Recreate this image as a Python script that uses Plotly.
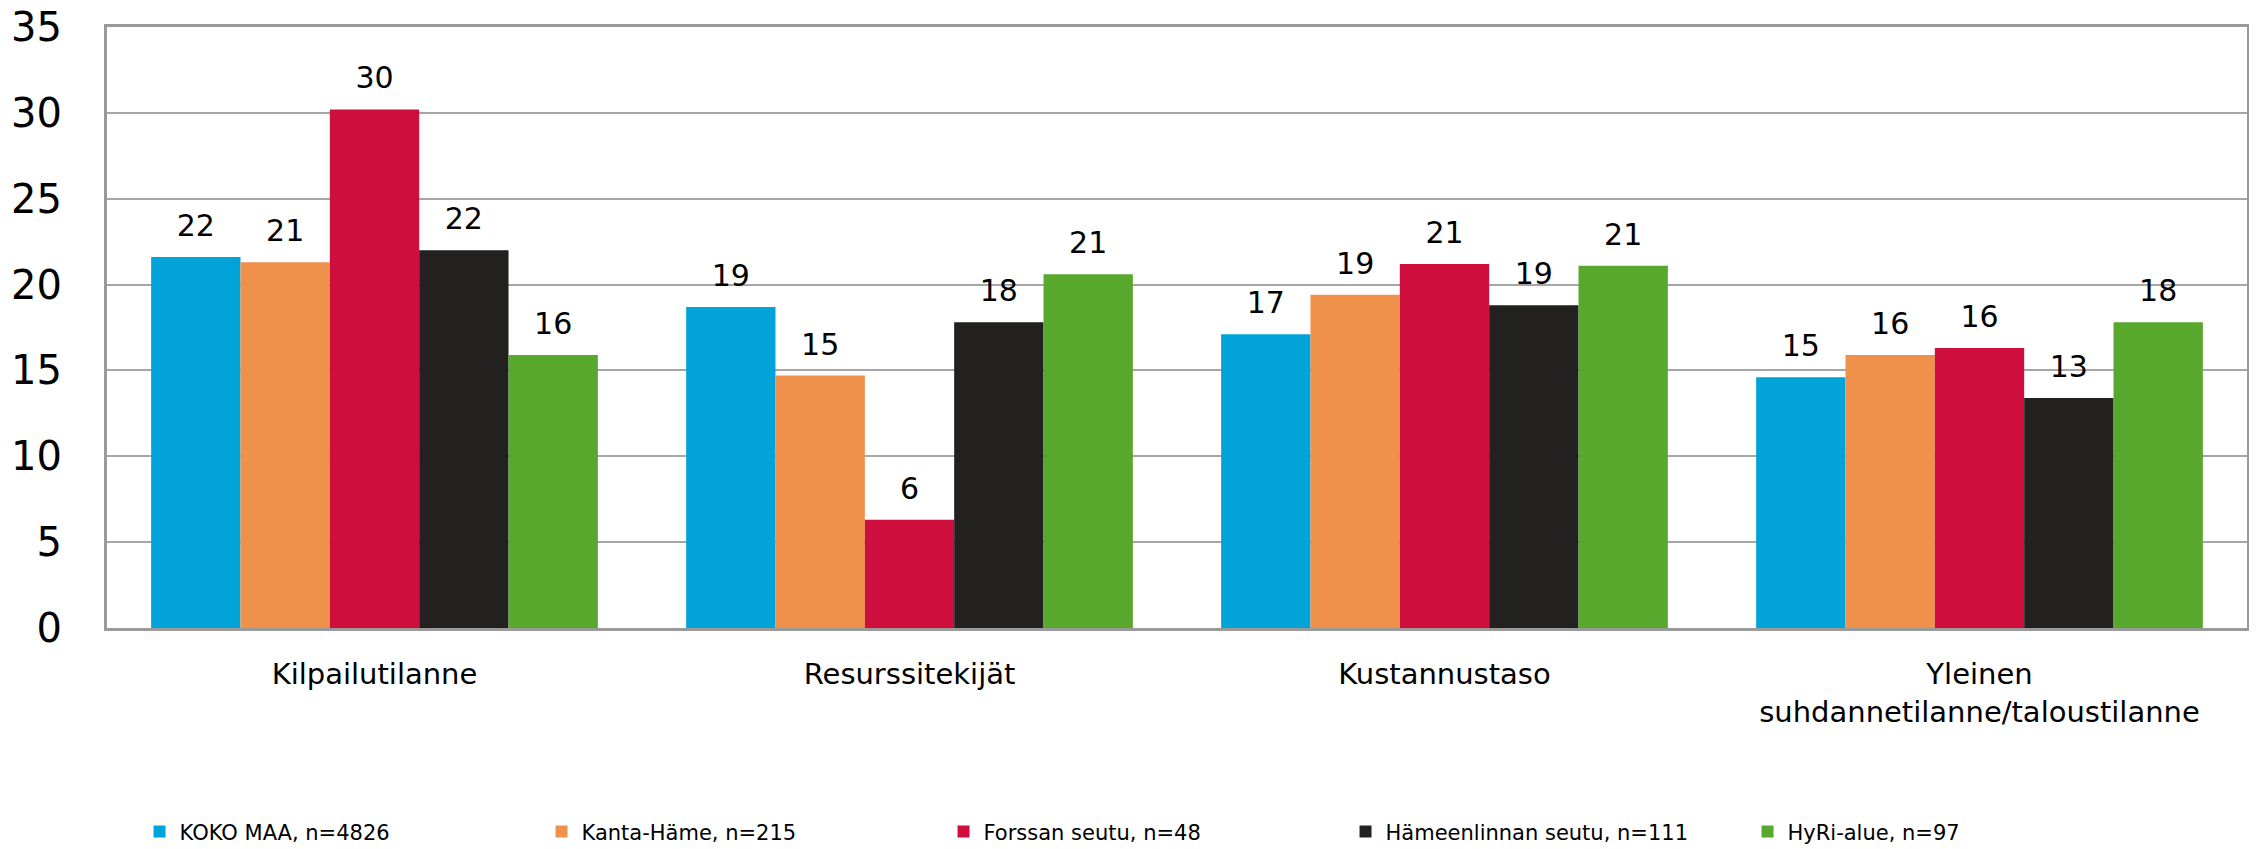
import plotly.graph_objects as go

categories = ["Kilpailutilanne", "Resurssitekijät", "Kustannustaso",
              "Yleinen<br>suhdannetilanne/taloustilanne"]
series_names = ["KOKO MAA, n=4826", "Kanta-Häme, n=215", "Forssan seutu, n=48",
                "Hämeenlinnan seutu, n=111", "HyRi-alue, n=97"]
koko_maa = [21.6, 18.7, 17.1, 14.6]
kanta_hame = [21.3, 14.7, 19.4, 15.9]
forssa = [30.2, 6.3, 21.2, 16.3]
hameenlinna = [22.0, 17.8, 18.8, 13.4]
hyri = [15.9, 20.6, 21.1, 17.8]
colors = ["#02A3D8", "#EF914B", "#CE0F3E", "#222120", "#58A82D"]
y_ticks = [0, 5, 10, 15, 20, 25, 30, 35]

values = [koko_maa, kanta_hame, forssa, hameenlinna, hyri]
FONT = "DejaVu Sans"
GAP = 0.165

fig = go.Figure()
for i, (name, vals, col) in enumerate(zip(series_names, values, colors)):
    fig.add_trace(go.Bar(
        x=categories, y=vals, name=name, marker=dict(color=col, line=dict(width=0)),
        offsetgroup=str(i), hoverinfo="skip"))
for i, (name, vals) in enumerate(zip(series_names, values)):
    fig.add_trace(go.Scatter(
        x=categories, y=vals, mode="markers+text", showlegend=False,
        offsetgroup=str(i), text=[f"{v:.0f}" for v in vals],
        textposition="top center",
        textfont=dict(family=FONT, size=30, color="#000000"),
        marker=dict(size=20, opacity=0), hoverinfo="skip", cliponaxis=False))

fig.update_layout(
    width=2249, height=849,
    paper_bgcolor="white", plot_bgcolor="white",
    barmode="group", bargap=GAP, bargroupgap=0,
    scattermode="group", scattergap=GAP,
    margin=dict(l=99, r=10, t=19, b=229, autoexpand=False),
    font=dict(family=FONT, color="#000000"),
    legend=dict(orientation="h", x=0.0152, xanchor="left", y=-0.339, yanchor="middle",
                entrywidth=357, entrywidthmode="pixels",
                font=dict(family=FONT, size=21, color="#000000"),
                itemwidth=30, tracegroupgap=0),
    showlegend=True,
)
fig.update_xaxes(
    showline=True, linecolor="#9a9a9a", linewidth=3, mirror=True,
    showgrid=False, ticks="", tickfont=dict(family=FONT, size=29, color="#000000"),
    ticklabelstandoff=18, automargin=False,
)
fig.update_yaxes(
    range=[0, 35], tickvals=y_ticks, showline=True, linecolor="#9a9a9a", linewidth=3,
    mirror=True, showgrid=True, gridcolor="#a6a6a6", gridwidth=2, zeroline=False,
    ticks="", tickfont=dict(family=FONT, size=40, color="#000000"),
    ticklabelstandoff=34, automargin=False, ticklabeloverflow="allow",
)

fig.write_html("out.html")
